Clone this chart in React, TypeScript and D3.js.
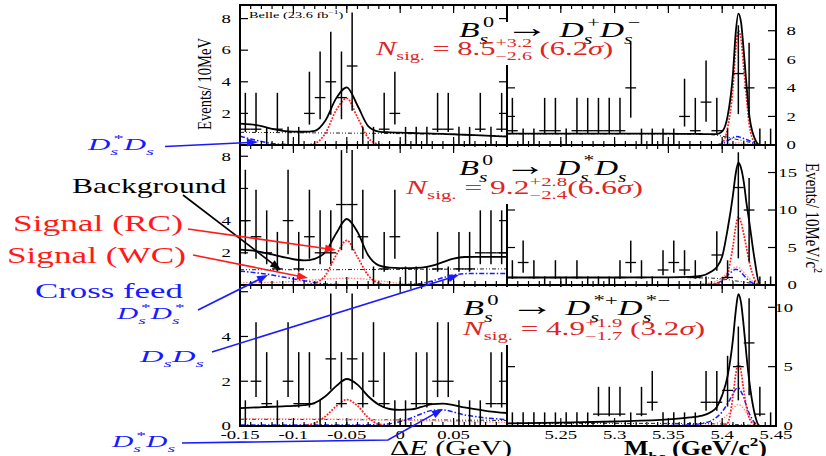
import React, { useLayoutEffect, useRef, useState } from 'react';
import * as d3 from 'd3';

const FONT = '"Liberation Serif", "Times New Roman", serif';
const BLUE = '#1a1aff';
const RED = '#ff1a1a';
const NRED = '#e02424';
const PINK = '#ff8f8f';

// ---------------- data ----------------
const dEBinCenters = [-0.145, -0.135, -0.125, -0.115, -0.105, -0.095, -0.085, -0.075, -0.065, -0.055, -0.045, -0.035, -0.025, -0.015, -0.005, 0.005, 0.015, 0.025, 0.035, 0.045, 0.055, 0.065, 0.075, 0.085, 0.095];
const mbcBinCenters = [5.205, 5.215, 5.225, 5.235, 5.245, 5.255, 5.265, 5.275, 5.285, 5.295, 5.305, 5.315, 5.325, 5.335, 5.345, 5.355, 5.365, 5.375, 5.385, 5.395, 5.405, 5.415, 5.425, 5.435, 5.445];
const binWidth = 0.01;

const countsDsDs_dE = [1, 1, 0, 1, 0, 0, 2, 3, 4, 3, 5, 0, 0, 1, 2, 0, 0, 0, 1, 1, 0, 0, 1, 0, 1];
const countsDsDs_mbc = [1, 0, 0, 1, 1, 0, 1, 1, 1, 1, 1, 4, 0, 0, 0, 0, 2, 1, 3, 1, 0, 5, 4, 0, 0];
const countsDsstDs_dE = [4, 3, 2, 1, 4, 1, 3, 2, 2, 5, 5, 3, 0, 1, 3, 0, 0, 0, 1, 0, 1, 1, 2, 2, 2];
const countsDsstDs_mbc = [1, 3, 1, 0, 1, 0, 1, 0, 0, 0, 1, 3, 1, 0, 2, 3, 2, 1, 0, 4, 1, 13, 10, 0, 0];
const countsDsstDsst_dE = [0, 2, 1, 0, 2, 1, 1, 0, 3, 1, 3, 1, 2, 1, 0, 0, 1, 1, 2, 2, 0, 0, 0, 1, 1];
const countsDsstDsst_mbc = [0, 0, 0, 0, 0, 0, 0, 0, 1, 1, 1, 0, 1, 2, 0, 0, 0, 0, 2, 2, 3, 5, 7, 1, 0];

// Poisson (Garwood) 68% intervals, indexed by count
const poissonLow = [0, 0.173, 0.708, 1.367, 2.086, 2.84, 3.62, 4.419, 5.232, 6.057, 6.891, 7.734, 8.585, 9.441];
const poissonHigh = [1.148, 3.3, 4.638, 5.918, 7.163, 8.382, 9.584, 10.77, 11.95, 13.11, 14.27, 15.42, 16.56, 17.7];

// fit curves
const dEGrid = [-0.15, -0.14, -0.13, -0.12, -0.11, -0.1, -0.09, -0.08, -0.07, -0.06, -0.05, -0.04, -0.03, -0.02, -0.01, 0, 0.01, 0.02, 0.03, 0.04, 0.05, 0.06, 0.07, 0.08, 0.09, 0.1];
const mbcGrid = [5.2, 5.25, 5.3, 5.35, 5.37, 5.38, 5.39, 5.395, 5.4, 5.405, 5.41, 5.4125, 5.415, 5.4175, 5.42, 5.4225, 5.425, 5.43, 5.435, 5.44, 5.45];

const dsds_dE_total = [1.35, 1.3, 1.2, 1.02, 0.9, 0.85, 0.84, 0.9, 1.55, 2.95, 3.65, 2.5, 1.2, 0.85, 0.8, 0.78, 0.76, 0.74, 0.72, 0.7, 0.68, 0.65, 0.62, 0.59, 0.56, 0.53];
const dsds_dE_rc = [0, 0, 0, 0, 0, 0, 0, 0.1, 0.75, 2.2, 2.95, 1.75, 0.45, 0.05, 0, 0, 0, 0, 0, 0, 0, 0, 0, 0, 0, 0];
const dsds_dE_xf = [0.55, 0.38, 0.22, 0.1, 0.04, 0.01, 0, 0, 0, 0, 0, 0, 0, 0, 0, 0, 0, 0, 0, 0, 0, 0, 0, 0, 0, 0];
const dsds_dE_bkg = [0.8, 0.8, 0.79, 0.79, 0.78, 0.78, 0.77, 0.77, 0.76, 0.76, 0.75, 0.75, 0.74, 0.74, 0.73, 0.72, 0.71, 0.7, 0.69, 0.68, 0.66, 0.64, 0.62, 0.6, 0.58, 0.55];

const dsds_mbc_total = [0.8, 0.8, 0.8, 0.79, 0.78, 0.77, 0.76, 0.76, 0.95, 2.0, 5.0, 7.8, 9.2, 8.6, 6.6, 4.3, 2.2, 0.5, 0, 0, 0];
const dsds_mbc_rc = [0, 0, 0, 0, 0, 0, 0, 0, 0.15, 1.2, 4.0, 6.6, 8.0, 7.4, 5.4, 3.4, 1.5, 0.2, 0, 0, 0];
const dsds_mbc_wc = [0, 0, 0, 0, 0, 0, 0, 0, 0.02, 0.06, 0.12, 0.14, 0.15, 0.14, 0.12, 0.09, 0.06, 0.02, 0, 0, 0];
const dsds_mbc_xf = [0, 0, 0, 0, 0, 0, 0, 0.02, 0.08, 0.3, 0.52, 0.6, 0.58, 0.52, 0.45, 0.38, 0.3, 0.1, 0, 0, 0];
const dsds_mbc_bkg = [0.78, 0.78, 0.78, 0.77, 0.76, 0.75, 0.72, 0.68, 0.62, 0.55, 0.46, 0.41, 0.37, 0.33, 0.29, 0.24, 0.2, 0.1, 0, 0, 0];

const dsstds_dE_total = [2.2, 2.15, 2.05, 1.9, 1.74, 1.6, 1.53, 1.63, 2.05, 3.2, 4.1, 3.3, 1.85, 1.22, 1.08, 1.05, 1.05, 1.08, 1.2, 1.42, 1.64, 1.74, 1.75, 1.75, 1.75, 1.75];
const dsstds_dE_rc = [0, 0, 0, 0, 0, 0, 0.02, 0.12, 0.6, 1.85, 2.77, 1.74, 0.6, 0.1, 0.01, 0, 0, 0, 0, 0, 0, 0, 0, 0, 0, 0];
const dsstds_dE_wc = [0.15, 0.15, 0.16, 0.17, 0.19, 0.22, 0.27, 0.32, 0.37, 0.4, 0.42, 0.4, 0.35, 0.27, 0.18, 0.1, 0.06, 0.04, 0.03, 0.02, 0.02, 0.02, 0.02, 0.02, 0.02, 0.02];
const dsstds_dE_xf = [0.86, 0.8, 0.72, 0.62, 0.5, 0.38, 0.27, 0.15, 0.07, 0.03, 0.01, 0, 0, 0, 0, 0, 0.03, 0.1, 0.25, 0.45, 0.62, 0.7, 0.72, 0.72, 0.72, 0.72];
const dsstds_dE_bkg = [0.95, 0.95, 0.95, 0.95, 0.95, 0.95, 0.95, 0.95, 0.95, 0.95, 0.96, 0.96, 0.96, 0.96, 0.97, 0.97, 0.97, 0.98, 0.98, 0.98, 0.99, 0.99, 0.99, 1.0, 1.0, 1.0];

const dsstds_mbc_total = [1.0, 1.0, 1.0, 1.02, 1.08, 1.2, 1.8, 2.4, 3.8, 7.4, 12.0, 14.8, 16.3, 15.6, 13.8, 11.0, 8.6, 3.5, 0, 0, 0];
const dsstds_mbc_rc = [0, 0, 0, 0, 0, 0, 0.05, 0.2, 0.5, 1.6, 5.2, 7.7, 9.1, 8.4, 6.8, 5.0, 3.2, 0.8, 0, 0, 0];
const dsstds_mbc_wc = [0, 0, 0, 0, 0.05, 0.15, 0.3, 0.55, 1.0, 1.6, 2.2, 2.4, 2.35, 2.1, 1.7, 1.3, 0.9, 0.3, 0, 0, 0];
const dsstds_mbc_xf = [0, 0, 0, 0, 0.02, 0.05, 0.1, 0.25, 0.6, 1.3, 1.9, 2.1, 2.0, 1.7, 1.3, 0.9, 0.55, 0.15, 0, 0, 0];
const dsstds_mbc_bkg = [1.0, 1.0, 1.0, 0.99, 0.97, 0.95, 0.92, 0.88, 0.8, 0.72, 0.6, 0.55, 0.5, 0.45, 0.4, 0.33, 0.27, 0.15, 0, 0, 0];

const dsstdsst_dE_total = [0.8, 0.82, 0.84, 0.86, 0.88, 0.9, 0.93, 1.03, 1.33, 1.78, 2.1, 1.85, 1.33, 0.95, 0.76, 0.72, 0.74, 0.85, 0.98, 1.0, 0.93, 0.83, 0.75, 0.68, 0.62, 0.58];
const dsstdsst_dE_rc = [0, 0, 0, 0, 0, 0, 0.03, 0.13, 0.43, 0.88, 1.18, 0.9, 0.38, 0.08, 0.01, 0, 0, 0, 0, 0, 0, 0, 0, 0, 0, 0];
const dsstdsst_dE_wc = [0.33, 0.33, 0.33, 0.32, 0.32, 0.32, 0.31, 0.31, 0.31, 0.3, 0.3, 0.3, 0.29, 0.28, 0.27, 0.26, 0.25, 0.24, 0.23, 0.22, 0.21, 0.2, 0.19, 0.18, 0.17, 0.16];
const dsstdsst_dE_xf = [0.05, 0.05, 0.05, 0.05, 0.05, 0.05, 0.05, 0.05, 0.05, 0.05, 0.05, 0.05, 0.05, 0.06, 0.1, 0.2, 0.35, 0.55, 0.7, 0.72, 0.62, 0.5, 0.42, 0.36, 0.32, 0.28];
const dsstdsst_dE_bkg = [0.3, 0.3, 0.3, 0.3, 0.3, 0.29, 0.29, 0.29, 0.29, 0.29, 0.28, 0.28, 0.28, 0.28, 0.28, 0.27, 0.27, 0.27, 0.27, 0.27, 0.26, 0.26, 0.26, 0.26, 0.25, 0.25];

const dsstdsst_mbc_total = [0.22, 0.28, 0.38, 0.55, 0.72, 0.85, 1.2, 1.6, 2.6, 4.2, 7.3, 9.6, 11.1, 10.4, 8.4, 6.0, 3.9, 1.1, 0, 0, 0];
const dsstdsst_mbc_rc = [0, 0, 0, 0, 0, 0, 0, 0, 0.05, 0.25, 2.5, 4.3, 5.3, 4.6, 3.0, 1.6, 0.7, 0.1, 0, 0, 0];
const dsstdsst_mbc_wc = [0, 0, 0, 0, 0, 0.03, 0.1, 0.25, 0.55, 0.95, 1.45, 1.7, 1.8, 1.7, 1.45, 1.1, 0.75, 0.2, 0, 0, 0];
const dsstdsst_mbc_xf = [0, 0, 0, 0.05, 0.1, 0.2, 0.45, 0.75, 1.2, 1.9, 2.7, 3.1, 3.2, 2.9, 2.4, 1.7, 1.1, 0.3, 0, 0, 0];
const dsstdsst_mbc_bkg = [0.22, 0.22, 0.22, 0.22, 0.21, 0.2, 0.19, 0.18, 0.17, 0.15, 0.13, 0.12, 0.11, 0.1, 0.09, 0.08, 0.07, 0.03, 0, 0, 0];

// axis ticks
const dEMajorTicks = [-0.15, -0.1, -0.05, 0, 0.05, 0.1];
const dETickLabels = ['-0.15', '-0.1', '-0.05', '0', '0.05'];
const mbcMajorTicks = [5.2, 5.25, 5.3, 5.35, 5.4, 5.45];
const mbcTickLabels = ['5.25', '5.3', '5.35', '5.4', '5.45'];
const yTicksLeft = [[0, 2, 4, 6, 8], [0, 2, 4, 6, 8], [0, 2, 4, 6]];
const yLabelsLeft = [[2, 4, 6, 8], [2, 4, 8], [0, 2, 4]];
const yTicksRight = [[0, 2, 4, 6, 8], [0, 5, 10, 15], [0, 5, 10]];

// ---------------- layout ----------------
const W = 826, H = 456;
const XA = 240, XM = 507, XB = 776;
const ROWS = [
  { y0: 5, y1: 145, yMaxL: 8.86, yMaxR: 9.8, rLabX: 796 },
  { y0: 145, y1: 285, yMaxL: 8.7, yMaxR: 18.67, rLabX: 797 },
  { y0: 285, y1: 426, yMaxL: 6.3, yMaxR: 11.88, rLabX: 793 },
];

const panelData = [
  [
    { counts: countsDsDs_dE, curves: { bkg: dsds_dE_bkg, xf: dsds_dE_xf, rc: dsds_dE_rc, total: dsds_dE_total } },
    { counts: countsDsDs_mbc, curves: { bkg: dsds_mbc_bkg, wc: dsds_mbc_wc, xf: dsds_mbc_xf, rc: dsds_mbc_rc, total: dsds_mbc_total } },
  ],
  [
    { counts: countsDsstDs_dE, curves: { bkg: dsstds_dE_bkg, wc: dsstds_dE_wc, xf: dsstds_dE_xf, rc: dsstds_dE_rc, total: dsstds_dE_total } },
    { counts: countsDsstDs_mbc, curves: { bkg: dsstds_mbc_bkg, wc: dsstds_mbc_wc, xf: dsstds_mbc_xf, rc: dsstds_mbc_rc, total: dsstds_mbc_total } },
  ],
  [
    { counts: countsDsstDsst_dE, curves: { bkg: dsstdsst_dE_bkg, wc: dsstdsst_dE_wc, xf: dsstdsst_dE_xf, rc: dsstdsst_dE_rc, total: dsstdsst_dE_total } },
    { counts: countsDsstDsst_mbc, curves: { bkg: dsstdsst_mbc_bkg, wc: dsstdsst_mbc_wc, xf: dsstdsst_mbc_xf, rc: dsstdsst_mbc_rc, total: dsstdsst_mbc_total } },
  ],
];

const curveStyle: Record<string, any> = {
  bkg: { stroke: '#222', strokeWidth: 1, strokeDasharray: '4,2,1,2,1,2' },
  wc: { stroke: PINK, strokeWidth: 1.4, strokeDasharray: '1.6,1.4' },
  xf: { stroke: BLUE, strokeWidth: 1.5, strokeDasharray: '5,2,1.5,2' },
  rc: { stroke: RED, strokeWidth: 1.7, strokeDasharray: '1.8,1.4' },
  total: { stroke: '#000', strokeWidth: 1.8 },
};

// ---------------- text helpers ----------------
const CW: Record<string, number> = { '.': 0.25, '+': 0.564, '−': 0.564, '*': 0.5, s: 0.389, ' ': 0.25, b: 0.5, c: 0.444, '-': 0.333 };
function textW(t: string, fs: number) {
  let w = 0;
  for (const c of t) w += CW[c] ?? 0.5;
  return w * fs;
}

function build(tokens: any[], fs: number) {
  const sf = fs * 0.66, up = -0.45 * fs, dn = 0.3 * fs;
  const out: any[] = [];
  let cur = 0, pdx = 0, lastItalic = false;
  tokens.forEach((tk, i) => {
    if (typeof tk === 'string' || tk.i !== undefined || tk.r !== undefined) {
      const t = typeof tk === 'string' ? tk : tk.i !== undefined ? tk.i : tk.r;
      const it = typeof tk !== 'string' && tk.i !== undefined;
      const size = typeof tk !== 'string' && tk.big ? fs * tk.big : fs;
      out.push(
        <tspan key={i} fontSize={size} fontStyle={it ? 'italic' : 'normal'} dx={pdx || undefined} dy={-cur || undefined}>{t}</tspan>
      );
      cur = 0; pdx = 0; lastItalic = it;
    } else {
      const kern = lastItalic ? 0.1 * fs : 0;
      const supW = tk.sup ? textW(tk.sup, sf) : 0;
      const subW = tk.sub ? textW(tk.sub, sf) : 0;
      let supAdv = 0;
      if (tk.sup) {
        out.push(<tspan key={i + 'p'} fontSize={sf} fontStyle="normal" dx={pdx + kern || undefined} dy={up - cur}>{tk.sup}</tspan>);
        cur = up; pdx = 0; supAdv = supW + kern;
      }
      if (tk.sub) {
        const dxv = (tk.sup ? -supAdv : 0) + pdx;
        out.push(<tspan key={i + 'b'} fontSize={sf} fontStyle={tk.subI ? 'italic' : 'normal'} dx={dxv || undefined} dy={dn - cur}>{tk.sub}</tspan>);
        cur = dn; pdx = 0;
        if (tk.sup && supAdv > subW) pdx = supAdv - subW;
      }
      lastItalic = false;
    }
  });
  return out;
}

function FitText({ x, y, width, rotate = 0, anchor = 'start', fontSize, fill = '#000', bold = false, children }: any) {
  const ref = useRef<SVGTextElement>(null);
  const [s, setS] = useState(1);
  useLayoutEffect(() => {
    const el = ref.current;
    if (!el) return;
    const w = el.getBBox().width;
    if (w > 0) setS(width / w);
  }, [width]);
  return (
    <g transform={`translate(${x},${y}) rotate(${rotate}) scale(${s},1)`}>
      <text ref={ref} textAnchor={anchor} fontSize={fontSize} fill={fill} fontFamily={FONT}
        fontWeight={bold ? 'bold' : 'normal'} style={{ whiteSpace: 'pre' }}>{children}</text>
    </g>
  );
}

function SText({ x, y, anchor, children, fs = 12.5 }: any) {
  return (
    <g transform={`translate(${x},${y}) scale(1.5,1)`}>
      <text textAnchor={anchor} fontSize={fs} fontFamily={FONT} fill="#000">{children}</text>
    </g>
  );
}

// ---------------- titles & annotations ----------------
const ARR = { r: ' → ', big: 1.3 };
const titleTokens = [
  [{ i: 'B' }, { sub: 's', sup: '0', subI: true }, ARR, { i: 'D' }, { sub: 's', sup: '+', subI: true }, { i: 'D' }, { sub: 's', sup: '−', subI: true }],
  [{ i: 'B' }, { sub: 's', sup: '0', subI: true }, ARR, { i: 'D' }, { sub: 's', sup: '*', subI: true }, { i: 'D' }, { sub: 's', subI: true }],
  [{ i: 'B' }, { sub: 's', sup: '0', subI: true }, ARR, { i: 'D' }, { sub: 's', sup: '*+', subI: true }, { i: 'D' }, { sub: 's', sup: '*−', subI: true }],
];
const nsigTokens = [
  [{ i: 'N' }, { sub: 'sig.' }, ' = 8.5', { sup: '+3.2', sub: '−2.6' }, ' (6.2', { i: 'σ' }, ')'],
  [{ i: 'N' }, { sub: 'sig.' }, ' = 9.2', { sup: '+2.8', sub: '−2.4' }, '(6.6', { i: 'σ' }, ')'],
  [{ i: 'N' }, { sub: 'sig.' }, ' = 4.9', { sup: '+1.9', sub: '−1.7' }, ' (3.2', { i: 'σ' }, ')'],
];
const titlePos = [
  { tx: 459, ty: 37, tw: 181, nx: 376, ny: 55, nw: 239, boxTop: 22 },
  { tx: 459, ty: 175, tw: 168, nx: 406, ny: 194, nw: 239, boxTop: 147 },
  { tx: 463, ty: 315, tw: 207, nx: 463, ny: 335, nw: 244, boxTop: 287 },
];

const labels = [
  { tokens: [{ i: 'D' }, { sub: 's', sup: '*', subI: true }, { i: 'D' }, { sub: 's', subI: true }], x: 88, y: 150, w: 69, fs: 17, fill: BLUE },
  { tokens: ['Background'], x: 72, y: 193, w: 155, fs: 21, fill: '#000' },
  { tokens: ['Signal (RC)'], x: 13, y: 231, w: 170, fs: 23, fill: RED },
  { tokens: ['Signal (WC)'], x: 7, y: 263, w: 179, fs: 23, fill: RED },
  { tokens: ['Cross feed'], x: 35, y: 298, w: 148, fs: 22, fill: BLUE },
  { tokens: [{ i: 'D' }, { sub: 's', sup: '*', subI: true }, { i: 'D' }, { sub: 's', sup: '*', subI: true }], x: 117, y: 319, w: 70, fs: 17, fill: BLUE },
  { tokens: [{ i: 'D' }, { sub: 's', subI: true }, { i: 'D' }, { sub: 's', subI: true }], x: 140, y: 362, w: 67, fs: 17, fill: BLUE },
  { tokens: [{ i: 'D' }, { sub: 's', sup: '*', subI: true }, { i: 'D' }, { sub: 's', subI: true }], x: 112, y: 447, w: 66, fs: 17, fill: BLUE },
];

const arrows = [
  { pts: [[165, 146.5], [258, 142]], color: BLUE },
  { pts: [[183, 195], [281, 270]], color: '#000' },
  { pts: [[188, 229], [336, 250]], color: RED },
  { pts: [[193, 255], [308, 278]], color: RED },
  { pts: [[198, 310], [268, 275]], color: BLUE },
  { pts: [[212, 352], [459, 275]], color: BLUE },
  { pts: [[182, 443], [388, 440], [443, 409]], color: BLUE },
];

function Arrow({ pts, color }: any) {
  const [x1, y1] = pts[pts.length - 2];
  const [x2, y2] = pts[pts.length - 1];
  const a = Math.atan2(y2 - y1, x2 - x1);
  const L = 11, hw = 4;
  const bx = x2 - L * Math.cos(a), by = y2 - L * Math.sin(a);
  const p1 = [bx + hw * Math.sin(a), by - hw * Math.cos(a)];
  const p2 = [bx - hw * Math.sin(a), by + hw * Math.cos(a)];
  const linePts = [...pts.slice(0, -1), [bx + 2 * Math.cos(a), by + 2 * Math.sin(a)]];
  return (
    <g>
      <polyline points={linePts.map((p: number[]) => p.join(',')).join(' ')} fill="none" stroke={color} strokeWidth={1.6} />
      <polygon points={`${x2},${y2} ${p1[0]},${p1[1]} ${p2[0]},${p2[1]}`} fill={color} />
    </g>
  );
}

// ---------------- panel ----------------
function Panel({ xs, ys, centers, counts, grid, curves, clipId }: any) {
  const line = d3.line<number>().x((_, i) => xs(grid[i])).y((v) => ys(v)).curve(d3.curveMonotoneX);
  const order = ['bkg', 'wc', 'xf', 'rc', 'total'];
  return (
    <g clipPath={`url(#${clipId})`}>
      {order.filter((k) => curves[k]).map((k) => (
        <path key={k} d={line(curves[k]) || ''} fill="none" {...curveStyle[k]} />
      ))}
      {counts.map((n: number, i: number) => {
        const cx = xs(centers[i]);
        const lo = n - poissonLow[n];
        const hi = n + poissonHigh[n] - (n === 0 ? 0 : n);
        return (
          <g key={i} stroke="#000">
            <line x1={cx} x2={cx} y1={ys(n === 0 ? 0 : lo)} y2={ys(n === 0 ? poissonHigh[0] : hi)} strokeWidth={1.5} />
            <line x1={xs(centers[i] - binWidth / 2)} x2={xs(centers[i] + binWidth / 2)} y1={ys(n)} y2={ys(n)} strokeWidth={1.3} />
          </g>
        );
      })}
    </g>
  );
}

export default function App() {
  const xL = d3.scaleLinear([-0.15, 0.1], [XA, XM]);
  const xR = d3.scaleLinear([5.2, 5.45], [XM, XB]);
  const minorL = d3.range(-0.15, 0.1 + 1e-9, 0.01);
  const minorR = d3.range(5.2, 5.45 + 1e-9, 0.01);

  return (
    <svg width={W} height={H} style={{ position: 'absolute', left: 0, top: 0, display: 'block', background: '#fff' }}>
      <defs>
        {ROWS.map((r, ri) => (
          <React.Fragment key={ri}>
            <clipPath id={`cl${ri}`}><rect x={XA} y={r.y0} width={XM - XA} height={r.y1 - r.y0} /></clipPath>
            <clipPath id={`cr${ri}`}><rect x={XM} y={r.y0} width={XB - XM} height={r.y1 - r.y0} /></clipPath>
          </React.Fragment>
        ))}
      </defs>
      <rect x={0} y={0} width={W} height={H} fill="#fff" />

      {ROWS.map((r, ri) => {
        const yL = d3.scaleLinear([0, r.yMaxL], [r.y1, r.y0]);
        const yR = d3.scaleLinear([0, r.yMaxR], [r.y1, r.y0]);
        return (
          <g key={ri}>
            <Panel xs={xL} ys={yL} centers={dEBinCenters} counts={panelData[ri][0].counts} grid={dEGrid} curves={panelData[ri][0].curves} clipId={`cl${ri}`} />
            <Panel xs={xR} ys={yR} centers={mbcBinCenters} counts={panelData[ri][1].counts} grid={mbcGrid} curves={panelData[ri][1].curves} clipId={`cr${ri}`} />
            <g stroke="#000" strokeWidth={1.2}>
              {dEMajorTicks.map((t) => (
                <React.Fragment key={'ma' + t}>
                  <line x1={xL(t)} x2={xL(t)} y1={r.y1} y2={r.y1 - 8} />
                  <line x1={xL(t)} x2={xL(t)} y1={r.y0} y2={r.y0 + 8} />
                </React.Fragment>
              ))}
              {minorL.map((t) => (
                <React.Fragment key={'mi' + t}>
                  <line x1={xL(t)} x2={xL(t)} y1={r.y1} y2={r.y1 - 4} />
                  <line x1={xL(t)} x2={xL(t)} y1={r.y0} y2={r.y0 + 4} />
                </React.Fragment>
              ))}
              {mbcMajorTicks.map((t) => (
                <React.Fragment key={'mb' + t}>
                  <line x1={xR(t)} x2={xR(t)} y1={r.y1} y2={r.y1 - 8} />
                  <line x1={xR(t)} x2={xR(t)} y1={r.y0} y2={r.y0 + 8} />
                </React.Fragment>
              ))}
              {minorR.map((t) => (
                <React.Fragment key={'mr' + t}>
                  <line x1={xR(t)} x2={xR(t)} y1={r.y1} y2={r.y1 - 4} />
                  <line x1={xR(t)} x2={xR(t)} y1={r.y0} y2={r.y0 + 4} />
                </React.Fragment>
              ))}
              {yTicksLeft[ri].map((t) => (
                <React.Fragment key={'yl' + t}>
                  <line x1={XA} x2={XA + 8} y1={yL(t)} y2={yL(t)} />
                  <line x1={XM} x2={XM - 8} y1={yL(t)} y2={yL(t)} />
                </React.Fragment>
              ))}
              {yTicksRight[ri].map((t) => (
                <React.Fragment key={'yr' + t}>
                  <line x1={XM} x2={XM + 8} y1={yR(t)} y2={yR(t)} />
                  <line x1={XB} x2={XB - 8} y1={yR(t)} y2={yR(t)} />
                </React.Fragment>
              ))}
            </g>
            <rect x={XA} y={r.y0} width={XB - XA} height={r.y1 - r.y0} fill="none" stroke="#000" strokeWidth={2} />
            <line x1={XM} x2={XM} y1={r.y0} y2={r.y1} stroke="#000" strokeWidth={2} />
            {yLabelsLeft[ri].map((t) => (
              <SText key={'lyl' + t} x={231} y={yL(t) + 4.3} anchor="end">{String(t)}</SText>
            ))}
            {yTicksRight[ri].map((t) => (
              <SText key={'lyr' + t} x={r.rLabX} y={yR(t) + 4.3} anchor="end">{String(t)}</SText>
            ))}
          </g>
        );
      })}

      {dETickLabels.map((lab, i) => (
        <SText key={'xl' + i} x={xL(dEMajorTicks[i])} y={438.5} anchor="middle">{lab}</SText>
      ))}
      {mbcTickLabels.map((lab, i) => (
        <SText key={'xr' + i} x={xR(mbcMajorTicks[i + 1])} y={438.5} anchor="middle">{lab}</SText>
      ))}

      {titlePos.map((p, i) => (
        <g key={'t' + i}>
          <rect x={p.tx - 2} y={p.boxTop} width={p.tw + 4} height={p.ty + 6 - p.boxTop} fill="#fff" />
          <rect x={p.nx - 3} y={p.ty + 6} width={p.nw + 6} height={p.ny + 10 - (p.ty + 6)} fill="#fff" />
          <FitText x={p.tx} y={p.ty} width={p.tw} fontSize={22} fill="#000">{build(titleTokens[i], 22)}</FitText>
          <FitText x={p.nx} y={p.ny} width={p.nw} fontSize={18} fill={NRED}>{build(nsigTokens[i], 18)}</FitText>
        </g>
      ))}

      <FitText x={249} y={17.5} width={95} fontSize={8}>{build(['Belle (23.6 fb', { sup: '−1' }, ')'], 8)}</FitText>

      <FitText x={211} y={84} width={92} rotate={-90} anchor="middle" fontSize={18}>{build(['Events/ 10MeV'], 18)}</FitText>
      <FitText x={806} y={218} width={110} rotate={90} anchor="middle" fontSize={18}>{build(['Events/ 10MeV/c', { sup: '2' }], 18)}</FitText>
      <FitText x={390} y={455} width={122} fontSize={20}>{build(['Δ', { i: 'E' }, ' (GeV)'], 20)}</FitText>
      <FitText x={624} y={455} width={143} fontSize={20} bold>{build(['M', { sub: 'bc' }, ' (GeV/c', { sup: '2' }, ')'], 20)}</FitText>

      {arrows.map((a, i) => <Arrow key={'a' + i} pts={a.pts} color={a.color} />)}
      {labels.map((l, i) => (
        <FitText key={'lb' + i} x={l.x} y={l.y} width={l.w} fontSize={l.fs} fill={l.fill}>{build(l.tokens, l.fs)}</FitText>
      ))}
    </svg>
  );
}
